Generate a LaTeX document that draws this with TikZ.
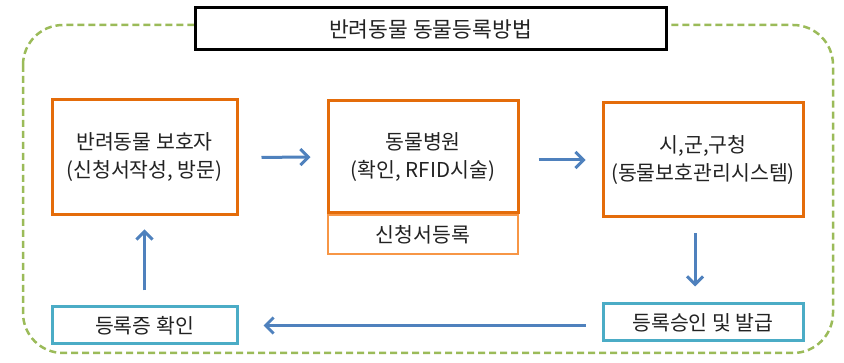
\documentclass[tikz,border=0pt]{standalone}
\usepackage{fontspec}
\setmainfont{Noto Sans CJK KR}
\usetikzlibrary{arrows.meta}
\definecolor{orgmain}{HTML}{E46C0A}
\definecolor{orglight}{HTML}{F79646}
\definecolor{tealc}{HTML}{4BACC6}
\definecolor{bluec}{HTML}{4F81BD}
\definecolor{greenc}{HTML}{9BBB59}
\definecolor{txt}{HTML}{222222}
\tikzset{
  mainbox/.style={draw=orgmain, line width=3pt, fill=white, inner sep=0pt, align=center, text=txt, font=\fontsize{20.5}{28}\selectfont},
  subbox/.style={draw=orglight, line width=2pt, fill=white, inner sep=0pt, align=center, text=txt, font=\fontsize{20.5}{28}\selectfont},
  tealbox/.style={draw=tealc, line width=3pt, fill=white, inner sep=0pt, align=center, text=txt, font=\fontsize{20.5}{28}\selectfont},
  titlebox/.style={draw=black, line width=3pt, fill=white, inner sep=0pt, align=center, text=txt, font=\fontsize{21.5}{26}\selectfont},
  flow/.style={draw=bluec, line width=3pt, -{Straight Barb[length=8pt,width=16pt]}}
}
\begin{document}
\begin{tikzpicture}[x=1pt,y=-1pt]
\useasboundingbox (0,0) rectangle (844,363);
\draw[greenc, line width=2.5pt, dash pattern=on 7pt off 4pt, rounded corners=40pt] (23,25) rectangle (833,353);
\node[titlebox, minimum width=471pt, minimum height=42pt] (title) at (430.5,29) {반려동물 동물등록방법};
\node[mainbox, minimum width=185pt, minimum height=115pt] (owner) at (144.5,157.5) {반려동물 보호자\\(신청서작성, 방문)};
\node[mainbox, minimum width=190pt, minimum height=112pt] (hosp) at (423,157) {동물병원\\(확인, RFID시술)};
\node[subbox, minimum width=190pt, minimum height=39pt, anchor=north] (reg) at (hosp.south) {신청서등록};
\node[mainbox, minimum width=200pt, minimum height=114pt] (city) at (703,160) {시,군,구청\\(동물보호관리시스템)};
\node[tealbox, minimum width=200pt, minimum height=37pt] (issue) at (703,322.5) {등록승인 및 발급};
\node[tealbox, minimum width=185pt, minimum height=37pt] (check) at (144.5,325.5) {등록증 확인};
\draw[flow, shorten <=23pt, shorten >=16pt] (owner.east) -- (hosp.west);
\draw[flow, shorten <=19pt, shorten >=16pt] ([yshift=-3pt]hosp.east) -- (city.west);
\draw[flow, shorten <=15pt, shorten >=16pt] ([xshift=-8pt]city.south) -- ([xshift=-8pt]issue.north);
\draw[flow, shorten <=16pt, shorten >=25pt] ([yshift=-3pt]issue.west) -- (check.east);
\draw[flow, shorten <=15pt, shorten >=13pt] (check.north) -- (owner.south);
\end{tikzpicture}
\end{document}
